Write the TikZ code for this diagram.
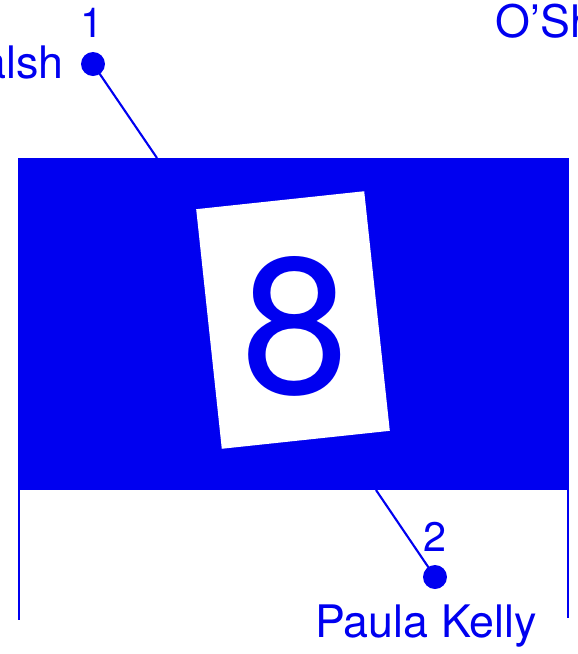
\documentclass[tikz,border=0pt]{standalone}
\usepackage{fontspec}
\setmainfont{TeX Gyre Heros}
\usetikzlibrary{positioning}
\definecolor{flagblue}{RGB}{0,0,240}

\begin{document}
\begin{tikzpicture}[x=0.02cm,y=-0.02cm,
        playername/.style={text=flagblue,inner sep=0pt,font=\fontsize{25.5}{30}\selectfont},
        numlabel/.style={text=flagblue,inner sep=0pt,font=\fontsize{23.5}{27}\selectfont},
        dotmark/.style={circle,fill=flagblue,inner sep=0pt,minimum size=0.48cm}]
        \useasboundingbox (0,0) rectangle (578,654);
        \clip (0,0) rectangle (578,654);

        \coordinate (P1) at (157,158);
        \coordinate (P2) at (376,490);

        % Pieds du drapeau
        \draw[flagblue,line width=1.4pt] (19,490) -- (19,620);
        \draw[flagblue,line width=1.4pt] (568,490) -- (568,618);

        % Repères 1 et 2
        \node[dotmark] (D1) at (93,64) {};
        \node[dotmark] (D2) at (435,577) {};
        \draw[flagblue,line width=1.2pt] (D1.center) -- (P1);
        \draw[flagblue,line width=1.2pt] (D2.center) -- (P2);

        % Drapeau
        \fill[flagblue] (18,158) rectangle (569,490);
        \node[fill=white,rotate=6.1,minimum width=3.38cm,minimum height=4.82cm,inner sep=0pt] (card) at (293,320) {};
        \node[text=flagblue,inner sep=0pt,font=\fontsize{110}{120}\selectfont] (eight) at (295,326) {8};

        % Noms
        \node[numlabel,anchor=base] (n1) at (92,37) {1};
        \node[playername,anchor=base east] (walsh) at (64,78) {Walsh};
        \node[playername,anchor=base west] (oshea) at (495,37) {O’Sh};
        \node[numlabel,anchor=base] (n2) at (435,551) {2};
        \node[playername,anchor=base] (kelly) at (426,637) {Paula Kelly};
    \end{tikzpicture}
\end{document}
